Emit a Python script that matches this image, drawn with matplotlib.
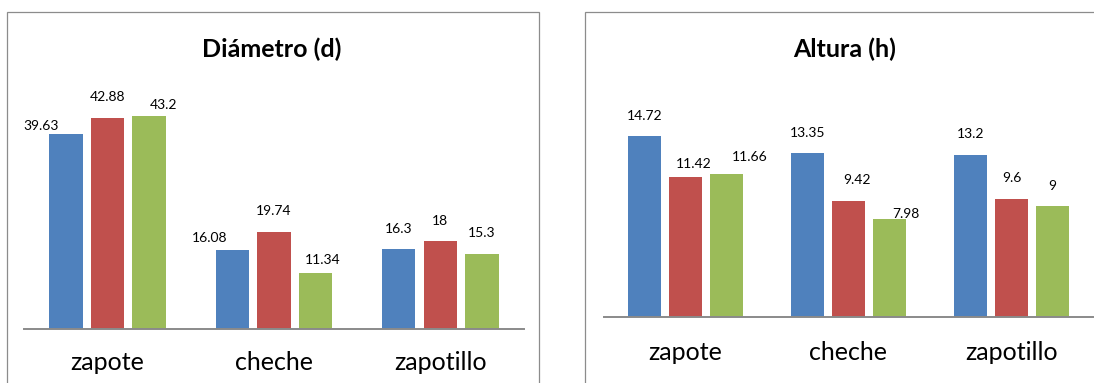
import matplotlib
matplotlib.use("Agg")
import matplotlib.pyplot as plt
from matplotlib.patches import Rectangle

categories = ["zapote", "cheche", "zapotillo"]
diam_s1 = [39.63, 16.08, 16.3]
diam_s2 = [42.88, 19.74, 18]
diam_s3 = [43.2, 11.34, 15.3]
alt_s1 = [14.72, 13.35, 13.2]
alt_s2 = [11.42, 9.42, 9.6]
alt_s3 = [11.66, 7.98, 9]
title_diam = "Diámetro (d)"
title_alt = "Altura (h)"

colors = ["#4F81BD", "#C0504D", "#9BBB59"]
W, H = 1094, 383
DPI = 100
FONT = ["Lato", "DejaVu Sans"]
plt.rcParams["font.family"] = FONT

# label offsets (pixels; dx right, dy up: label centre above bar top)
diam_dx = [[-25, -22.5, 0], [0, 0, 0], [14, 7, 0]]
diam_dy = [[8, 12, 20.7], [21, 21, 20], [12, 14, 20.7]]
alt_dx = [[0, 0, 0], [8, 9, 0], [23, 17, 0]]
alt_dy = [[21, 20.7, 21], [12.7, 21.3, 21], [17, 5.3, 21]]

fig = plt.figure(figsize=(W / DPI, H / DPI), dpi=DPI)

def fx(px):
    return px / W

def fy(py):
    return 1 - py / H

# panel borders
border_col = "#8c8c8c"
fig.add_artist(Rectangle((fx(6.5), fy(400)), fx(538.5) - fx(6.5), fy(11.7) - fy(400),
                         transform=fig.transFigure, fill=False, ec=border_col, lw=0.9))
fig.add_artist(Rectangle((fx(585), fy(400)), fx(1120) - fx(585), fy(11.7) - fy(400),
                         transform=fig.transFigure, fill=False, ec=border_col, lw=0.9))


def panel(x0, x1, ybase, ymax, pxunit, series, title, tx, dxs, dys, cat_off):
    ytop = ybase - ymax * pxunit
    ax = fig.add_axes([fx(x0), fy(ybase), fx(x1) - fx(x0), fy(ytop) - fy(ybase)])
    ax.set_xlim(-0.5, 2.5)
    ax.set_ylim(0, ymax)
    ax.patch.set_alpha(0)
    step, width = 0.25, 0.2
    for i, vals in enumerate(series):
        xs = [c + (i - 1) * step for c in range(len(categories))]
        ax.bar(xs, vals, width=width, color=colors[i], edgecolor="none", zorder=2)
        for j, (x, v) in enumerate(zip(xs, vals)):
            ax.annotate(f"{v:g}", (x, v), xytext=(dxs[i][j] * 0.72, (dys[i][j] - 4.3) * 0.72),
                        textcoords="offset points", ha="center", va="baseline",
                        fontsize=10, color="#000000", zorder=3)
    for s in ["top", "left", "right"]:
        ax.spines[s].set_visible(False)
    ax.spines["bottom"].set_color("#8a8a8a")
    ax.spines["bottom"].set_linewidth(1.4)
    ax.set_yticks([])
    ax.set_xticks([])
    for j, c in enumerate(categories):
        ax.annotate(c, (j, 0), xycoords=("data", "axes fraction"),
                    xytext=(0, -cat_off * 0.72), textcoords="offset points",
                    ha="center", va="center", fontsize=18, color="#000000")
    fig.text(fx(tx), fy(49.3), title, ha="center", va="center",
             fontsize=18, fontweight="bold", color="#000000")
    return ax

panel(24.3, 523.6, 329.3, 50, 4.93, [diam_s1, diam_s2, diam_s3], title_diam, 272,
      diam_dx, diam_dy, 33.5)
panel(604, 1093, 316.7, 16, 12.26, [alt_s1, alt_s2, alt_s3], title_alt, 845,
      alt_dx, alt_dy, 36)

fig.savefig("out.png", dpi=DPI)
